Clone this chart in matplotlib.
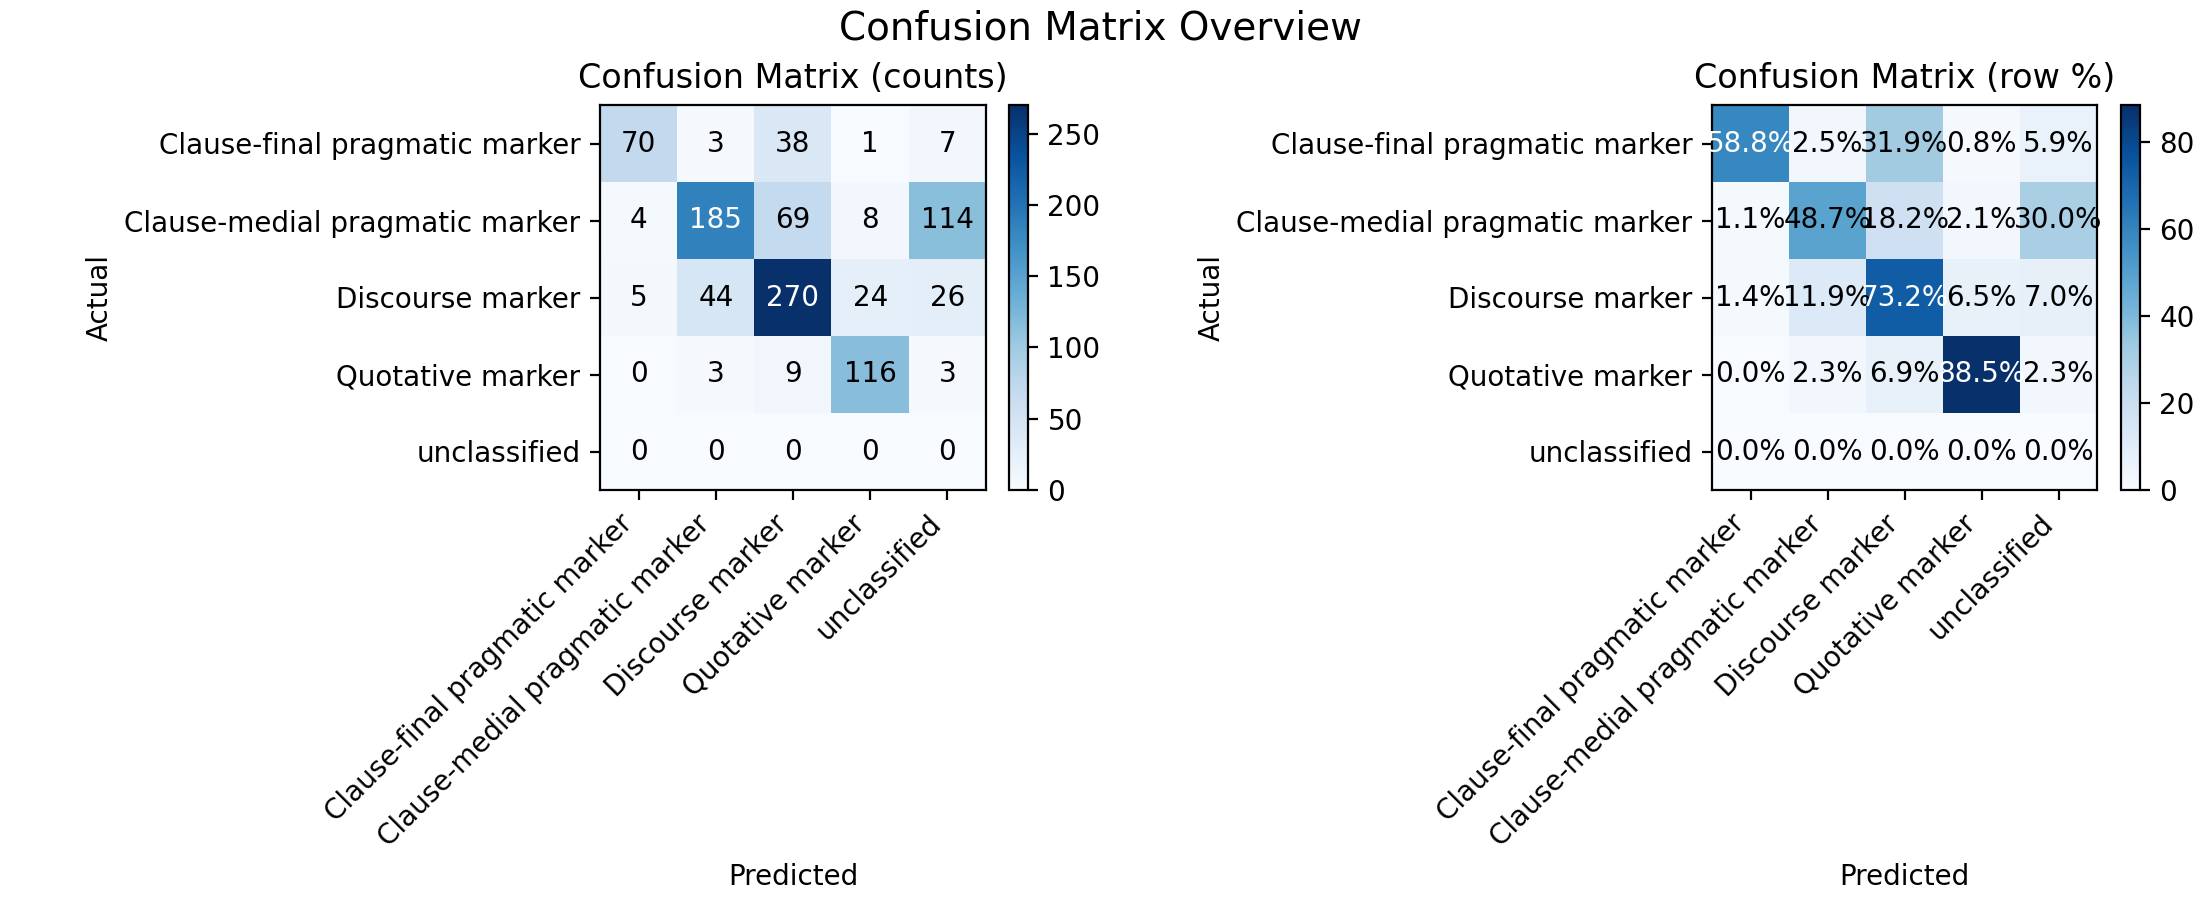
import numpy as np
import matplotlib.pyplot as plt

# class labels (same order for actual and predicted)
labels = ["Clause-final pragmatic marker",
          "Clause-medial pragmatic marker",
          "Discourse marker",
          "Quotative marker",
          "unclassified"]

# raw counts, rows = actual, cols = predicted
row_final = [70, 3, 38, 1, 7]
row_medial = [4, 185, 69, 8, 114]
row_discourse = [5, 44, 270, 24, 26]
row_quotative = [0, 3, 9, 116, 3]
row_unclassified = [0, 0, 0, 0, 0]

W, H = 2200.0, 900.0


def px_rect(x0, x1, y0, y1):
    # pixel box (from top-left) -> figure fraction rect
    return [x0 / W, 1 - y1 / H, (x1 - x0) / W, (y1 - y0) / H]


def row_percent(cm):
    sums = cm.sum(axis=1, keepdims=True)
    out = np.zeros_like(cm, dtype=float)
    np.divide(cm * 100.0, sums, out=out, where=sums > 0)
    return out


def draw_matrix(fig, ax, cax, mat, title, fmt):
    im = ax.imshow(mat, cmap="Blues", interpolation="nearest", aspect="auto")
    fig.colorbar(im, cax=cax)
    ax.set_title(title, fontsize=12)
    ax.set_xticks(np.arange(len(labels)))
    ax.set_yticks(np.arange(len(labels)))
    ax.set_xticklabels(labels, rotation=45, ha="right")
    ax.set_yticklabels(labels)
    ax.set_xlabel("Predicted")
    ax.set_ylabel("Actual")
    thresh = mat.max() * 0.6
    for i in range(mat.shape[0]):
        for j in range(mat.shape[1]):
            ax.text(j, i, fmt(mat[i, j]), ha="center", va="center",
                    color="white" if mat[i, j] > thresh else "black")


def main():
    cm = np.array([row_final, row_medial, row_discourse,
                   row_quotative, row_unclassified])
    pct = row_percent(cm)

    fig = plt.figure(figsize=(11, 4.5))
    ax1 = fig.add_axes(px_rect(600, 986, 105, 490))
    cax1 = fig.add_axes(px_rect(1009, 1028, 105, 490))
    ax2 = fig.add_axes(px_rect(1712, 2097, 105, 490))
    cax2 = fig.add_axes(px_rect(2121, 2140, 105, 490))

    draw_matrix(fig, ax1, cax1, cm, "Confusion Matrix (counts)",
                lambda v: "{:d}".format(int(v)))
    draw_matrix(fig, ax2, cax2, pct, "Confusion Matrix (row %)",
                lambda v: "{:.1f}%".format(v))
    fig.suptitle("Confusion Matrix Overview", fontsize=14, y=0.99)
    fig.savefig("out.png", dpi=200)


if __name__ == "__main__":
    main()
